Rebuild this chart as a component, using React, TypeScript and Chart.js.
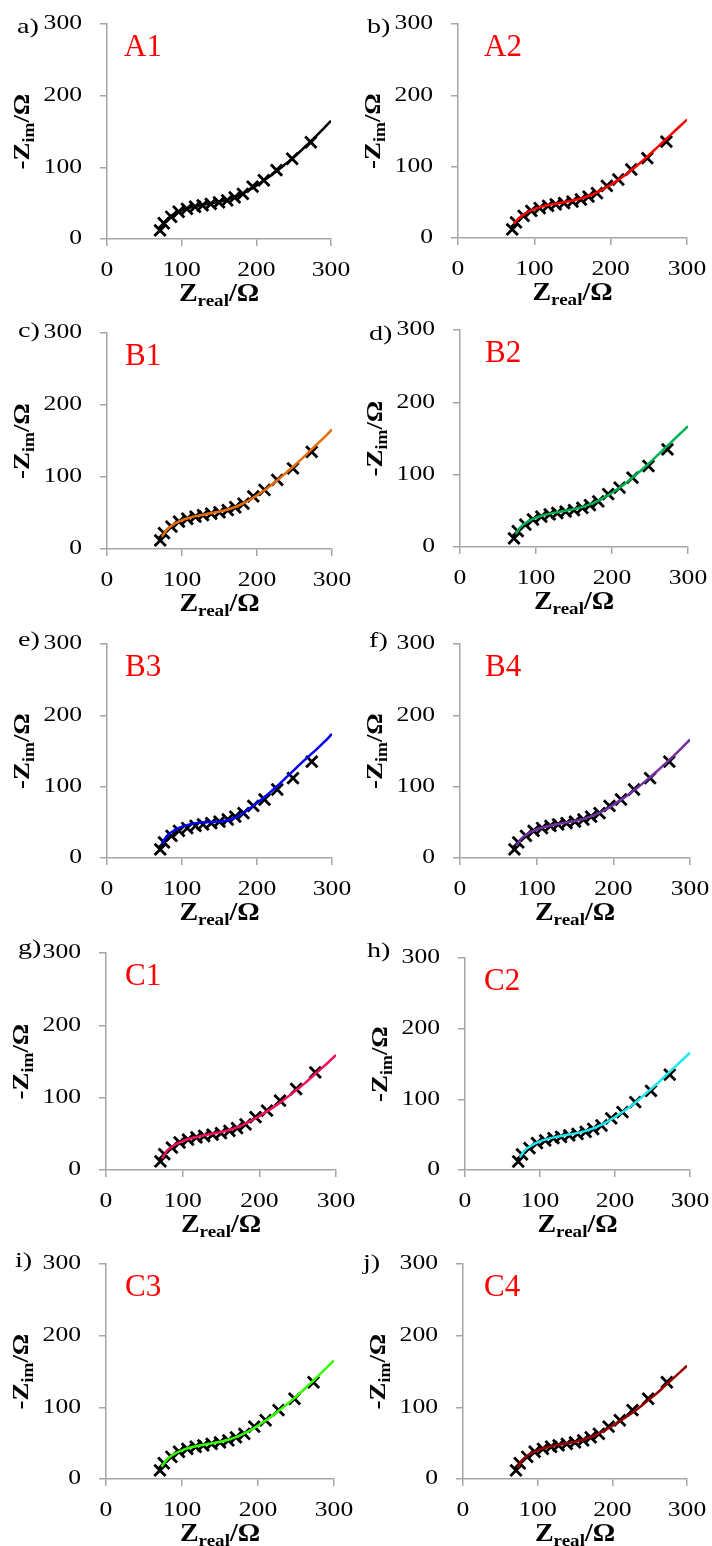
import React, { useEffect, useRef } from 'react';
import { Chart, registerables, LinearScale } from 'chart.js';

// ---- data ----
const Z_REAL = [71, 76, 86, 96, 107, 118, 128, 139, 150, 161, 171, 182, 195, 210, 227, 248, 273];
const Z_IM = [12, 22, 31, 38, 42, 45, 47, 49, 51, 54, 58, 63, 73, 82, 96, 112, 135];

const FIT_X = [73, 80, 90, 100, 110, 120, 130, 140, 150, 160, 170, 180, 190, 200, 210, 220, 230, 240, 250, 260, 270, 280, 290, 300];
const FIT_A1 = [16, 27, 35, 40, 43.5, 46, 48, 50, 52, 54.5, 58, 62.5, 68, 74.5, 81.5, 89, 97, 105.5, 114, 123.5, 133.5, 143.5, 154, 165];
const FIT_A2 = [20, 28, 35.5, 40.5, 44, 46.5, 48.5, 50.5, 52.5, 55, 58.5, 63, 68.5, 74.5, 81.5, 89, 97.5, 106.5, 116, 126, 136, 146, 156, 166];
const FIT_B1 = [17, 27, 35, 40, 43.5, 46, 48, 50, 52, 54.5, 58, 62.5, 68, 74.5, 81.5, 89.5, 98, 107, 116, 125.5, 135.5, 145.5, 155.5, 166];
const FIT_B2 = [18, 28, 35.5, 40.5, 44, 46.5, 48.5, 50.5, 52.5, 55, 58.5, 63, 68.5, 75, 82, 90, 98.5, 107.5, 117, 127, 137, 147, 157, 167];
const FIT_B3 = [20, 31, 39, 44, 47, 49, 50, 50.5, 51, 52.5, 56, 62, 69, 77, 85.5, 94.5, 104, 114, 124, 134, 143.5, 153, 163, 174];
const FIT_B4 = [17, 27, 35, 40, 43.5, 46, 48, 50, 52, 54.5, 58, 62.5, 68, 74.5, 81.5, 89, 97.5, 106, 115, 124.5, 134.5, 144.5, 155, 166];
const FIT_C1 = [16, 27, 35, 40, 43.5, 46, 48.5, 50.5, 52.5, 55, 58.5, 63, 68.5, 74.5, 81, 88, 95.5, 103.5, 112, 120.5, 130, 139.5, 149, 159];
const FIT_C2 = [18, 28, 35.5, 40.5, 44, 46.5, 48.5, 50.5, 52.5, 55, 58.5, 63, 68.5, 75, 82, 89.5, 98, 107, 116.5, 126, 136, 146, 156, 166];
const FIT_C3 = [17, 27, 35, 40, 43.5, 46, 48, 50, 52, 54.5, 58, 62.5, 68, 74.5, 81.5, 89, 97.5, 106, 115, 124.5, 134.5, 144.5, 155, 165.5];
const FIT_C4 = [16, 27, 35, 40, 43.5, 46, 48, 50, 52, 54.5, 58, 62.5, 68, 74, 80.5, 87.5, 95, 103, 111.5, 120, 129.5, 139, 148.5, 158];

const AXIS_TICKS = [0, 100, 200, 300];
const PANEL_LETTERS = ['a)', 'b)', 'c)', 'd)', 'e)', 'f)', 'g)', 'h)', 'i)', 'j)'];
const SAMPLE_NAMES = ['A1', 'A2', 'B1', 'B2', 'B3', 'B4', 'C1', 'C2', 'C3', 'C4'];
const FITS = [FIT_A1, FIT_A2, FIT_B1, FIT_B2, FIT_B3, FIT_B4, FIT_C1, FIT_C2, FIT_C3, FIT_C4];

// ---- styles / layout ----
const FIT_COLORS = ['#000000', '#ff0000', '#e46c0a', '#00b050', '#0000ff', '#7030a0', '#f0105a', '#22e6ee', '#33ff00', '#990000'];
const SERIF = '"Liberation Serif", "Times New Roman", serif';
const AXIS_COLOR = '#a6a6a6';
const TEXT_STRETCH = 1.28; // the reference's small text is horizontally widened
const TITLE_STRETCH = 1.12;

// canvas box (x, y, w, h) and plot area in page coordinates (L, R, T, B)
const LAYOUT = [
  { x: 0, y: 0, w: 356, h: 310, L: 107, R: 331, T: 24, B: 239, lx: 17, ly: 27, ndx: 17 },
  { x: 356, y: 0, w: 356, h: 310, L: 458, R: 687, T: 24, B: 238, lx: 11, ly: 27, ndx: 26 },
  { x: 0, y: 310, w: 356, h: 310, L: 107, R: 332, T: 333, B: 549, lx: 18, ly: 21, ndx: 18 },
  { x: 356, y: 310, w: 356, h: 310, L: 460, R: 688, T: 330, B: 547, lx: 13, ly: 24, ndx: 25 },
  { x: 0, y: 620, w: 356, h: 310, L: 107, R: 332, T: 644, B: 858, lx: 18, ly: 20, ndx: 18 },
  { x: 356, y: 620, w: 356, h: 310, L: 460, R: 690, T: 644, B: 858, lx: 13, ly: 21, ndx: 25 },
  { x: 0, y: 930, w: 356, h: 310, L: 106, R: 336, T: 953, B: 1170, lx: 18, ly: 18, ndx: 19 },
  { x: 356, y: 930, w: 356, h: 310, L: 465, R: 690, T: 958, B: 1170, lx: 11, ly: 21, ndx: 19 },
  { x: 0, y: 1240, w: 356, h: 306, L: 106, R: 334, T: 1264, B: 1479, lx: 15, ly: 21, ndx: 19 },
  { x: 356, y: 1240, w: 356, h: 306, L: 463, R: 687, T: 1264, B: 1479, lx: 7, ly: 23, ndx: 21 },
];

// Linear scale whose tick labels are drawn horizontally widened, like the reference.
class WideLinearScale extends (LinearScale as any) {
  static id = 'wideLinear';
  static defaults = {};
  drawLabels(chartArea: any) {
    const me: any = this;
    if (!me.options.ticks.display) return;
    const ctx = me.ctx;
    const items = me.getLabelItems(chartArea);
    for (const item of items) {
      const o = item.options;
      ctx.save();
      ctx.font = item.font.string;
      ctx.fillStyle = o.color;
      ctx.textAlign = o.textAlign;
      ctx.textBaseline = o.textBaseline;
      ctx.translate(o.translation[0], o.translation[1]);
      if (o.rotation) ctx.rotate(o.rotation);
      ctx.scale(TEXT_STRETCH, 1);
      ctx.fillText(String(item.label), 0, item.textOffset || 0);
      ctx.restore();
    }
  }
}

Chart.register(...registerables, WideLinearScale as any);

type Part = { t: string; size: number; dy?: number };

function drawRich(ctx: CanvasRenderingContext2D, parts: Part[], cx: number, baseY: number) {
  let total = 0;
  const widths = parts.map((p) => {
    ctx.font = `bold ${p.size}px ${SERIF}`;
    const w = ctx.measureText(p.t).width;
    total += w;
    return w;
  });
  ctx.save();
  ctx.translate(cx, baseY);
  ctx.scale(TITLE_STRETCH, 1);
  let x = -total / 2;
  ctx.textAlign = 'left';
  ctx.textBaseline = 'alphabetic';
  parts.forEach((p, i) => {
    ctx.font = `bold ${p.size}px ${SERIF}`;
    ctx.fillText(p.t, x, p.dy || 0);
    x += widths[i];
  });
  ctx.restore();
}

const panelTextPlugin = {
  id: 'panelText',
  afterDraw(chart: any, _args: any, opts: any) {
    const { ctx, chartArea: a } = chart;
    ctx.save();
    ctx.fillStyle = '#000';
    ctx.font = `22px ${SERIF}`;
    ctx.textAlign = 'left';
    ctx.textBaseline = 'middle';
    ctx.save();
    ctx.translate(opts.lx, opts.ly);
    ctx.scale(TEXT_STRETCH, 1);
    ctx.fillText(opts.letter, 0, 0);
    ctx.restore();

    ctx.fillStyle = '#ff0000';
    ctx.font = `31px ${SERIF}`;
    ctx.textBaseline = 'alphabetic';
    ctx.fillText(opts.name, a.left + opts.ndx, a.top + 32);

    ctx.fillStyle = '#000';
    drawRich(
      ctx,
      [
        { t: 'Z', size: 25 },
        { t: 'real', size: 17, dy: 5 },
        { t: '/Ω', size: 25 },
      ],
      (a.left + a.right) / 2,
      a.bottom + 62
    );

    ctx.translate(a.left - 78, (a.top + a.bottom) / 2);
    ctx.rotate(-Math.PI / 2);
    drawRich(
      ctx,
      [
        { t: '-Z', size: 24 },
        { t: 'im', size: 16, dy: 5 },
        { t: '/Ω', size: 24 },
      ],
      0,
      0
    );
    ctx.restore();
  },
};

function Panel({ index }: { index: number }) {
  const ref = useRef<HTMLCanvasElement>(null);
  const box = LAYOUT[index];

  useEffect(() => {
    const canvas = ref.current;
    if (!canvas) return;
    const setTicks = (s: any) => {
      s.ticks = AXIS_TICKS.map((v) => ({ value: v }));
    };
    const clearPadding = (s: any) => {
      s.paddingTop = 0;
      s.paddingBottom = 0;
      s.paddingLeft = 0;
      s.paddingRight = 0;
    };
    const axisCommon = {
      type: 'wideLinear',
      min: 0,
      max: 300,
      afterBuildTicks: setTicks,
      grid: { drawOnChartArea: false, drawTicks: true, tickLength: 7, color: AXIS_COLOR, lineWidth: 1.5 },
      border: { display: true, color: AXIS_COLOR, width: 1.5 },
    };
    const chart = new Chart(canvas, {
      type: 'scatter',
      data: {
        datasets: [
          {
            type: 'line',
            data: FIT_X.map((x, i) => ({ x, y: FITS[index][i] })),
            borderColor: FIT_COLORS[index],
            backgroundColor: FIT_COLORS[index],
            borderWidth: 2.5,
            pointRadius: 0,
            fill: false,
            cubicInterpolationMode: 'monotone',
          } as any,
          {
            type: 'scatter',
            data: Z_REAL.map((x, i) => ({ x, y: Z_IM[i] })),
            pointStyle: 'crossRot',
            pointRadius: 8,
            borderColor: '#000000',
            backgroundColor: '#000000',
            borderWidth: 2.8,
            showLine: false,
          } as any,
        ],
      },
      options: {
        animation: false,
        responsive: false,
        devicePixelRatio: 1,
        events: [],
        layout: {
          autoPadding: false,
          padding: { top: box.T - box.y, right: box.x + box.w - box.R, left: 0, bottom: 0 },
        },
        plugins: {
          legend: { display: false },
          tooltip: { enabled: false },
          panelText: {
            letter: PANEL_LETTERS[index],
            name: SAMPLE_NAMES[index],
            lx: box.lx,
            ly: box.ly,
            ndx: box.ndx,
          },
        } as any,
        scales: {
          x: {
            ...axisCommon,
            position: 'bottom',
            afterFit: (s: any) => {
              s.height = box.y + box.h - box.B;
              clearPadding(s);
            },
            ticks: { color: '#000', font: { family: SERIF, size: 20 }, padding: 13, maxRotation: 0, autoSkip: false },
          },
          y: {
            ...axisCommon,
            position: 'left',
            afterFit: (s: any) => {
              s.width = box.L - box.x;
              clearPadding(s);
            },
            ticks: { color: '#000', font: { family: SERIF, size: 20 }, padding: 18, autoSkip: false },
          },
        },
      } as any,
      plugins: [panelTextPlugin],
    });
    return () => chart.destroy();
  }, [index]);

  return (
    <canvas
      ref={ref}
      width={box.w}
      height={box.h}
      style={{ position: 'absolute', left: box.x, top: box.y, width: box.w, height: box.h }}
    />
  );
}

export default function App() {
  return (
    <div style={{ position: 'absolute', left: 0, top: 0, width: 712, height: 1546, background: '#fff' }}>
      {LAYOUT.map((_, i) => (
        <Panel key={i} index={i} />
      ))}
    </div>
  );
}
